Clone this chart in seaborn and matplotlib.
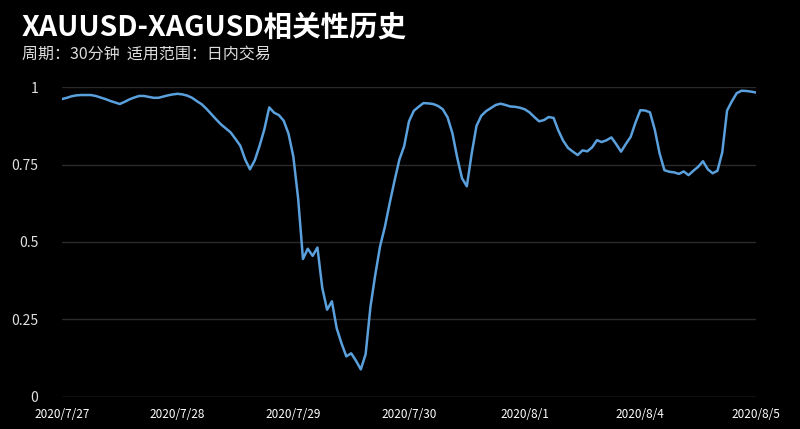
import numpy as np
import pandas as pd
import matplotlib
matplotlib.use("Agg")
import matplotlib.pyplot as plt
import seaborn as sns

# hourly correlation readings, 7/27 -> 8/5 (24 points per labelled day)
corr = [
    0.962, 0.966, 0.971, 0.974, 0.975, 0.975, 0.975, 0.972, 0.967, 0.962,
    0.956, 0.951, 0.946, 0.953, 0.961, 0.967, 0.972, 0.972, 0.969, 0.966,
    0.966, 0.970, 0.974, 0.977, 0.979, 0.977, 0.973, 0.966, 0.955, 0.945,
    0.930, 0.913, 0.896, 0.880, 0.867, 0.854, 0.833, 0.811, 0.767, 0.735,
    0.764, 0.811, 0.865, 0.935, 0.918, 0.910, 0.892, 0.850, 0.776, 0.640,
    0.445, 0.478, 0.455, 0.482, 0.352, 0.281, 0.308, 0.221, 0.172, 0.130,
    0.140, 0.116, 0.088, 0.137, 0.290, 0.394, 0.486, 0.549, 0.626, 0.698,
    0.766, 0.810, 0.890, 0.924, 0.937, 0.949, 0.948, 0.946, 0.940, 0.929,
    0.903, 0.852, 0.773, 0.706, 0.680, 0.785, 0.875, 0.908, 0.923, 0.933,
    0.943, 0.947, 0.943, 0.938, 0.937, 0.934, 0.929, 0.919, 0.904, 0.890,
    0.894, 0.904, 0.901, 0.860, 0.827, 0.804, 0.792, 0.781, 0.796, 0.793,
    0.806, 0.829, 0.823, 0.829, 0.838, 0.816, 0.792, 0.817, 0.840, 0.886,
    0.926, 0.925, 0.919, 0.863, 0.786, 0.732, 0.727, 0.725, 0.720, 0.728,
    0.716, 0.730, 0.743, 0.761, 0.735, 0.722, 0.730, 0.790, 0.925, 0.955,
    0.981, 0.989, 0.988, 0.986, 0.983,
]
day_labels = ["2020/7/27", "2020/7/28", "2020/7/29", "2020/7/30",
              "2020/8/1", "2020/8/4", "2020/8/5"]
y_ticks = [0, 0.25, 0.5, 0.75, 1]
y_labels = ["0", "0.25", "0.5", "0.75", "1"]

df = pd.DataFrame({"t": np.arange(len(corr)), "corr": corr})

sns.set_theme(style="dark")
plt.rcParams["font.family"] = ["Noto Sans CJK SC", "DejaVu Sans"]

fig = plt.figure(figsize=(8, 4.29), dpi=100, facecolor="black")
ax = fig.add_axes([0.0775, 0.0755, 0.8675, 0.721])
ax.set_facecolor("black")

for v in y_ticks:
    ax.axhline(v, color="#555555" if v == 0 else "#2a2a2a", lw=1, zorder=0)

sns.lineplot(data=df, x="t", y="corr", ax=ax, color="#5aa0dc", lw=1.8)

ax.set_xlim(0, len(corr) - 1)
ax.set_ylim(0, 1)
ax.set_xticks(np.arange(len(day_labels)) * 24)
ax.set_xticklabels(day_labels, color="white", fontsize=8.5)
ax.set_yticks(y_ticks)
ax.set_yticklabels(y_labels, color="#e0e0e0", fontsize=10)
ax.tick_params(axis="x", length=0, pad=8)
ax.tick_params(axis="y", length=0, pad=17)
ax.set_xlabel("")
ax.set_ylabel("")
ax.grid(False)
for s in ax.spines.values():
    s.set_visible(False)

fig.text(0.0275, 0.935, "XAUUSD-XAGUSD相关性历史", color="white",
         fontsize=20.5, fontweight="bold", va="center", ha="left")
fig.text(0.0275, 0.873, "周期：30分钟  适用范围：日内交易", color="#dddddd",
         fontsize=11.5, va="center", ha="left")

fig.savefig("out.png", dpi=100, facecolor="black")
